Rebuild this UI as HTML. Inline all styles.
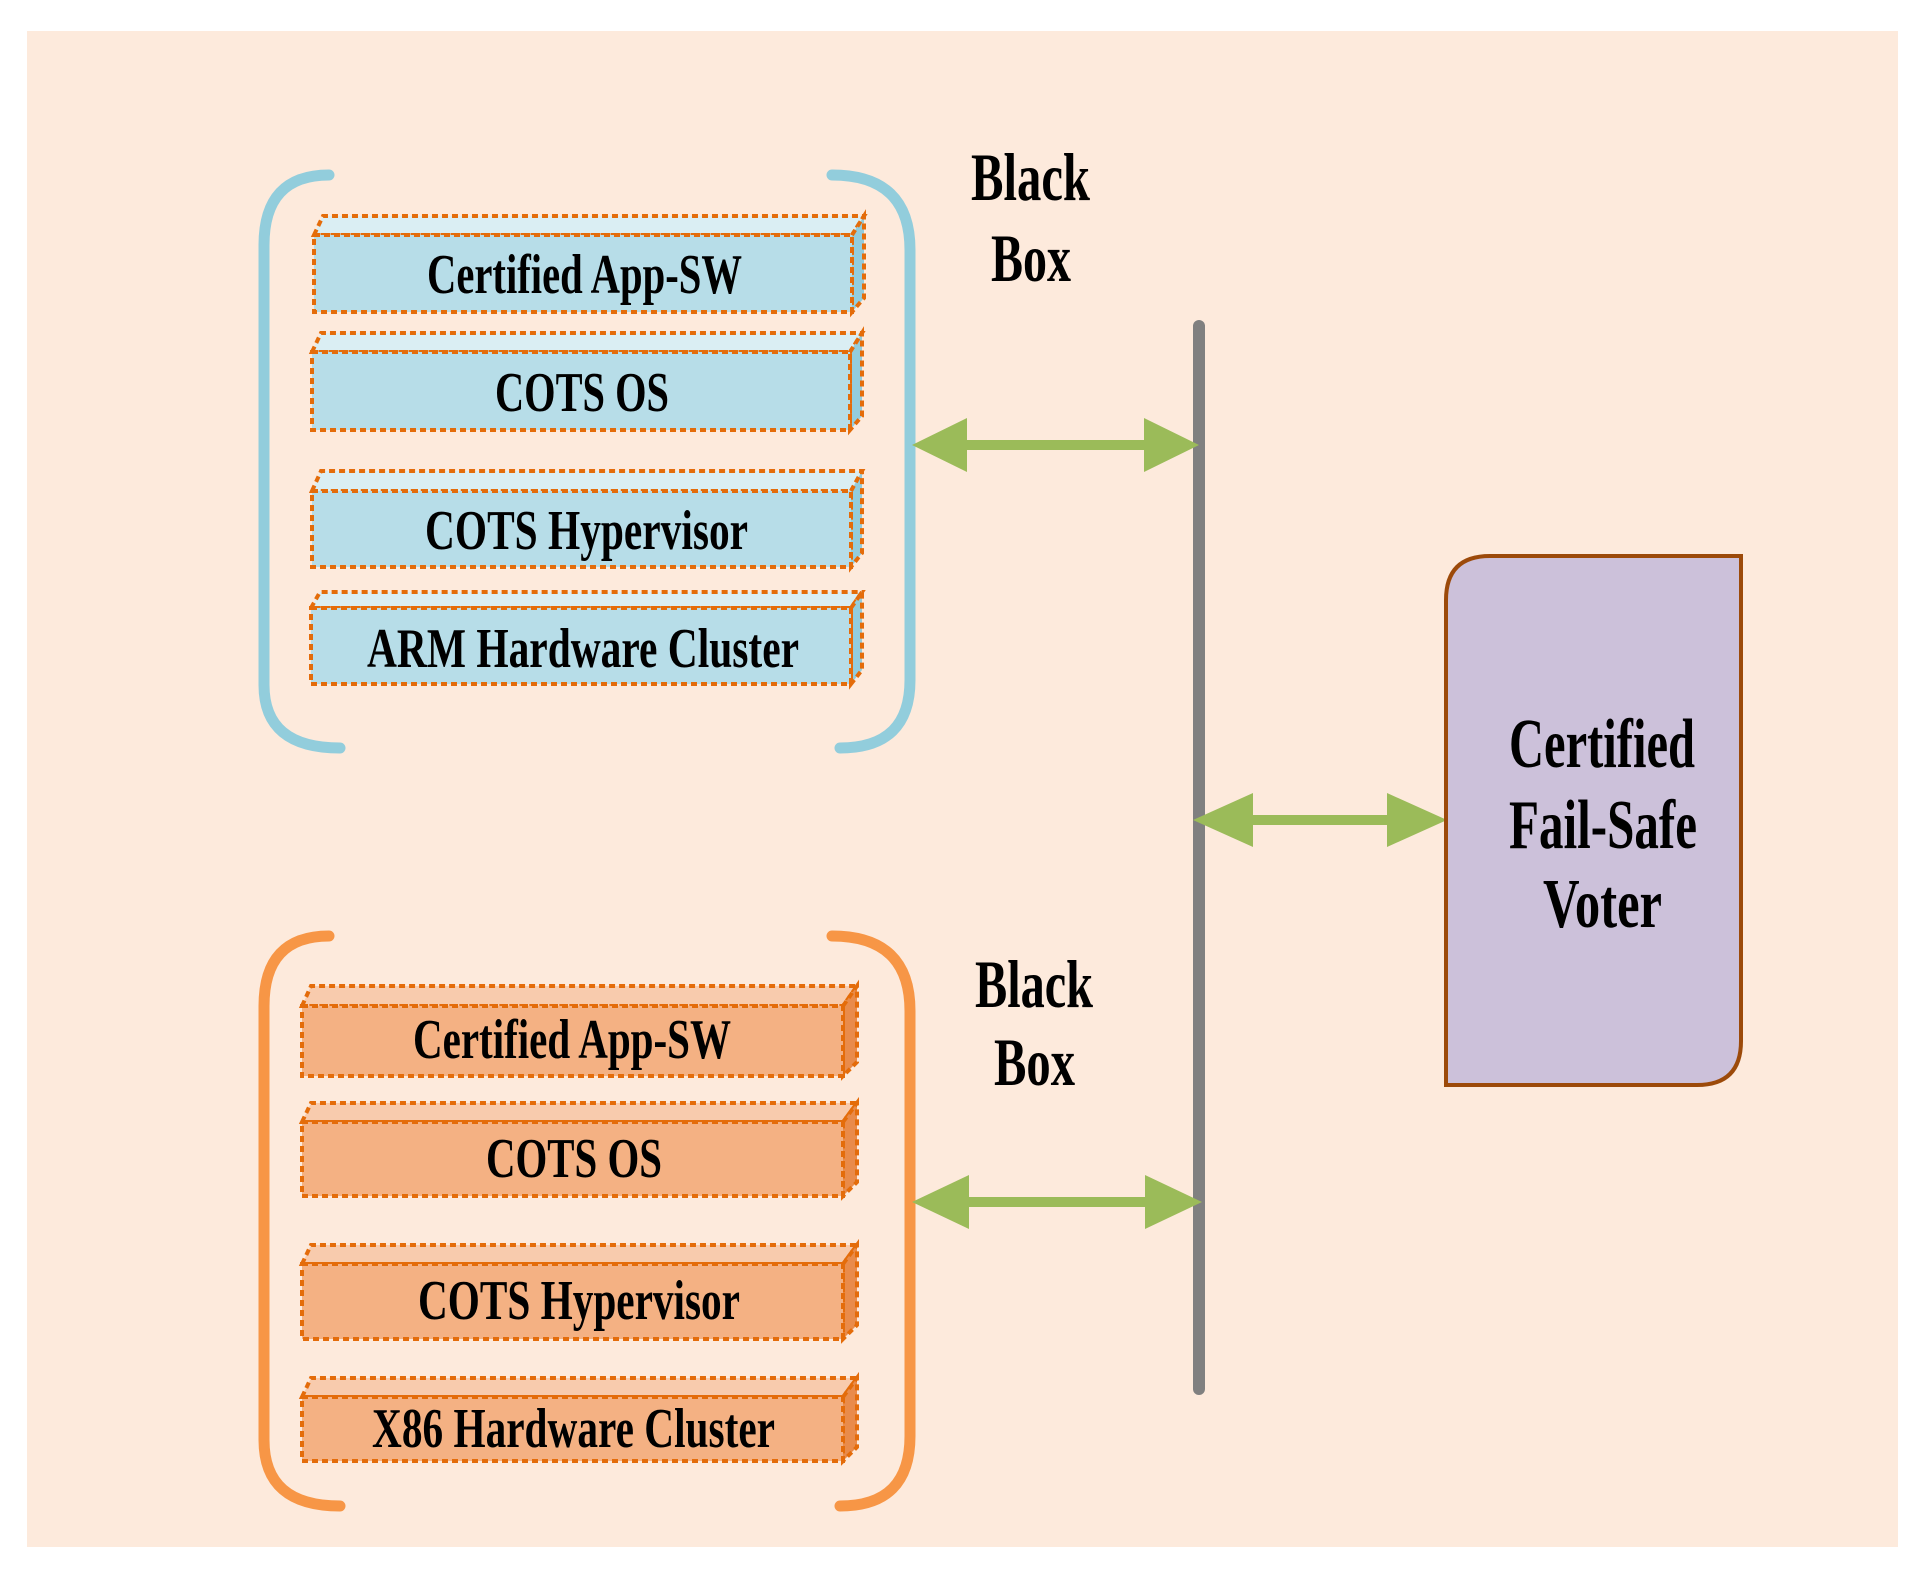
<!DOCTYPE html>
<html><head><meta charset="utf-8"><style>html,body{margin:0;padding:0;background:#fff}svg{display:block}</style></head>
<body>
<svg width="1923" height="1571" viewBox="0 0 1923 1571" xmlns="http://www.w3.org/2000/svg" font-family="Liberation Serif, serif" font-weight="bold">
<rect x="0" y="0" width="1923" height="1571" fill="#fff"/>
<rect x="27" y="31" width="1871" height="1516" fill="#fdeadc"/>
<!-- brackets -->
<g fill="none" stroke-width="11" stroke-linecap="round">
<path d="M329 175 Q264 175 264 245 L264 685 Q264 748 340 748" stroke="#92cddc"/>
<path d="M832 175 Q910 175 910 250 L910 680 Q910 748 840 748" stroke="#92cddc"/>
<path d="M329 936 Q264 936 264 1006 L264 1440 Q264 1506 340 1506" stroke="#f79646"/>
<path d="M832 936 Q910 936 910 1011 L910 1436 Q910 1506 840 1506" stroke="#f79646"/>
</g>
<!-- boxes -->
<g stroke="#e46c0a" stroke-width="4" stroke-dasharray="6 4">
<!-- blue -->
<polygon points="314,235 323,216 864,216 852,235" fill="#daeef3"/><polygon points="852,235 864,216 864,298 852,312" fill="#93cddd"/><rect x="314" y="235" width="538" height="77" fill="#b7dde8"/>
<polygon points="312,352 321,333 862,333 850,352" fill="#daeef3"/><polygon points="850,352 862,333 862,416 850,430" fill="#93cddd"/><rect x="312" y="352" width="538" height="78" fill="#b7dde8"/>
<polygon points="312,491 321,471 862,471 851,491" fill="#daeef3"/><polygon points="851,491 862,471 862,553 851,567" fill="#93cddd"/><rect x="312" y="491" width="539" height="76" fill="#b7dde8"/>
<polygon points="311,608 320,592 862,592 851,608" fill="#daeef3"/><polygon points="851,608 862,592 862,670 851,684" fill="#93cddd"/><rect x="311" y="608" width="540" height="76" fill="#b7dde8"/>
<!-- orange -->
<polygon points="302,1006 311,986 857,986 843,1006" fill="#f8cbad"/><polygon points="843,1006 857,986 857,1062 843,1076" fill="#e98b4a"/><rect x="302" y="1006" width="541" height="70" fill="#f4b183"/>
<polygon points="302,1122 311,1103 857,1103 843,1122" fill="#f8cbad"/><polygon points="843,1122 857,1103 857,1182 843,1196" fill="#e98b4a"/><rect x="302" y="1122" width="541" height="74" fill="#f4b183"/>
<polygon points="302,1264 311,1245 857,1245 843,1264" fill="#f8cbad"/><polygon points="843,1264 857,1245 857,1325 843,1339" fill="#e98b4a"/><rect x="302" y="1264" width="541" height="75" fill="#f4b183"/>
<polygon points="302,1397 311,1378 857,1378 843,1397" fill="#f8cbad"/><polygon points="843,1397 857,1378 857,1447 843,1461" fill="#e98b4a"/><rect x="302" y="1397" width="541" height="64" fill="#f4b183"/>
</g>
<!-- box labels -->
<g font-size="56" fill="#000" lengthAdjust="spacingAndGlyphs">
<text x="427" y="293" textLength="315" lengthAdjust="spacingAndGlyphs">Certified App-SW</text>
<text x="495" y="411" textLength="174" lengthAdjust="spacingAndGlyphs">COTS OS</text>
<text x="425" y="549" textLength="323" lengthAdjust="spacingAndGlyphs">COTS Hypervisor</text>
<text x="367" y="667" textLength="432" lengthAdjust="spacingAndGlyphs">ARM Hardware Cluster</text>
<text x="413" y="1058" textLength="318" lengthAdjust="spacingAndGlyphs">Certified App-SW</text>
<text x="486" y="1177" textLength="176" lengthAdjust="spacingAndGlyphs">COTS OS</text>
<text x="418" y="1319" textLength="322" lengthAdjust="spacingAndGlyphs">COTS Hypervisor</text>
<text x="372" y="1447" textLength="403" lengthAdjust="spacingAndGlyphs">X86 Hardware Cluster</text>
</g>
<g font-size="68" fill="#000">
<text x="971" y="200" textLength="119" lengthAdjust="spacingAndGlyphs">Black</text>
<text x="991" y="281" textLength="80" lengthAdjust="spacingAndGlyphs">Box</text>
<text x="975" y="1007" textLength="118" lengthAdjust="spacingAndGlyphs">Black</text>
<text x="994" y="1085" textLength="81" lengthAdjust="spacingAndGlyphs">Box</text>
</g>
<!-- bus line -->
<line x1="1199" y1="326" x2="1199" y2="1389" stroke="#808080" stroke-width="12" stroke-linecap="round"/>
<!-- arrows -->
<g fill="#9bbb59">
<rect x="960" y="440" width="192" height="10"/><polygon points="912,445 967,418 967,472"/><polygon points="1199,445 1144,418 1144,472"/>
<rect x="1245" y="815" width="160" height="10"/><polygon points="1193,820 1253,793 1253,847"/><polygon points="1447,820 1387,793 1387,847"/>
<rect x="960" y="1197" width="195" height="10"/><polygon points="912,1202 969,1175 969,1229"/><polygon points="1202,1202 1145,1175 1145,1229"/>
</g>
<!-- voter -->
<path d="M1446 1085 L1446 600 Q1446 556 1490 556 L1741 556 L1741 1041 Q1741 1085 1697 1085 Z" fill="#ccc1da" stroke="#9c4a0a" stroke-width="4"/>
<g font-size="70" fill="#000">
<text x="1509" y="767" textLength="186" lengthAdjust="spacingAndGlyphs">Certified</text>
<text x="1509" y="848" textLength="188" lengthAdjust="spacingAndGlyphs">Fail-Safe</text>
<text x="1543" y="927" textLength="119" lengthAdjust="spacingAndGlyphs">Voter</text>
</g>
</svg>
</body></html>
